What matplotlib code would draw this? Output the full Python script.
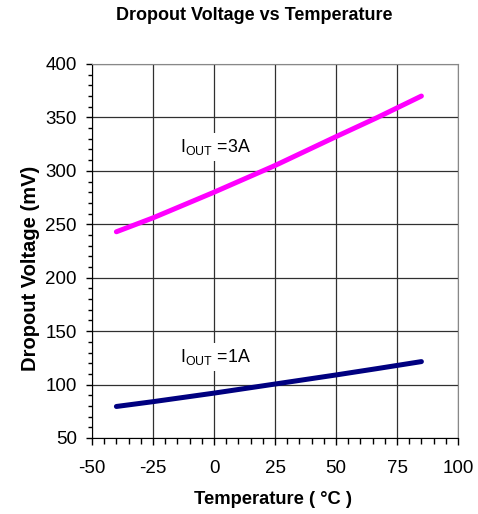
import matplotlib
matplotlib.use("Agg")
import matplotlib.pyplot as plt
from matplotlib.ticker import MultipleLocator

plt.rcParams['font.family'] = ['Liberation Sans', 'DejaVu Sans']
plt.rcParams['axes.unicode_minus'] = False

temps = [-40, -25, 0, 25, 50, 67, 85]
v_3a = [243, 256, 280, 305, 332, 350, 370]
v_1a = [79.5, 84, 92, 100.5, 109, 115, 121.5]

title = "Dropout Voltage vs Temperature"
xlabel = "Temperature ( °C )"
ylabel = "Dropout Voltage (mV)"
xticks = [-50, -25, 0, 25, 50, 75, 100]
yticks = [50, 100, 150, 200, 250, 300, 350, 400]

fig = plt.figure(figsize=(4.78, 5.14), dpi=100)
ax = fig.add_axes([92/478, 1-438/514, 366/478, 374/514])

ax.plot(temps, v_3a, color='#ff00ff', lw=3.6, solid_capstyle='round', zorder=3)
ax.plot(temps, v_1a, color='#000080', lw=3.6, solid_capstyle='round', zorder=3)

ax.set_xlim(-50, 100)
ax.set_ylim(50, 400)
ax.set_xticks(xticks)
ax.set_yticks(yticks)
ax.xaxis.set_minor_locator(MultipleLocator(5))
ax.yaxis.set_minor_locator(MultipleLocator(10))
ax.grid(True, which='major', color='#303030', lw=0.9, zorder=1)
ax.tick_params(axis='x', which='major', direction='out', length=5, width=1, pad=11, labelsize=13.5, colors='black')
ax.tick_params(axis='x', which='minor', direction='out', length=4, width=1)
ax.tick_params(axis='y', which='major', direction='out', length=4, width=1, pad=7, labelsize=13.5)
ax.tick_params(axis='y', which='minor', direction='out', length=3, width=1)

for s in ['top', 'right']:
    ax.spines[s].set_color('#888888')
for s in ['left', 'bottom']:
    ax.spines[s].set_color('black')

lab_kw = dict(fontsize=12.8, va='baseline', ha='left', zorder=4,
              bbox=dict(facecolor='white', edgecolor='none', pad=3))
ax.text(-14, 318, r'I$_{\mathregular{OUT}}$ =3A', **lab_kw)
ax.text(-14, 121.4, r'I$_{\mathregular{OUT}}$ =1A', **lab_kw)

fig.text(254/478, 1 - 16/514, title, ha='center', va='center',
         fontsize=13, fontweight='bold')
fig.text(273/478, 1 - 499/514, xlabel, ha='center', va='center', fontsize=13.2, fontweight='bold')
fig.text(31/478, 1 - 268/514, ylabel, ha='center', va='center', rotation=90,
         fontsize=14.5, fontweight='bold')

fig.savefig('out.png', dpi=100)
